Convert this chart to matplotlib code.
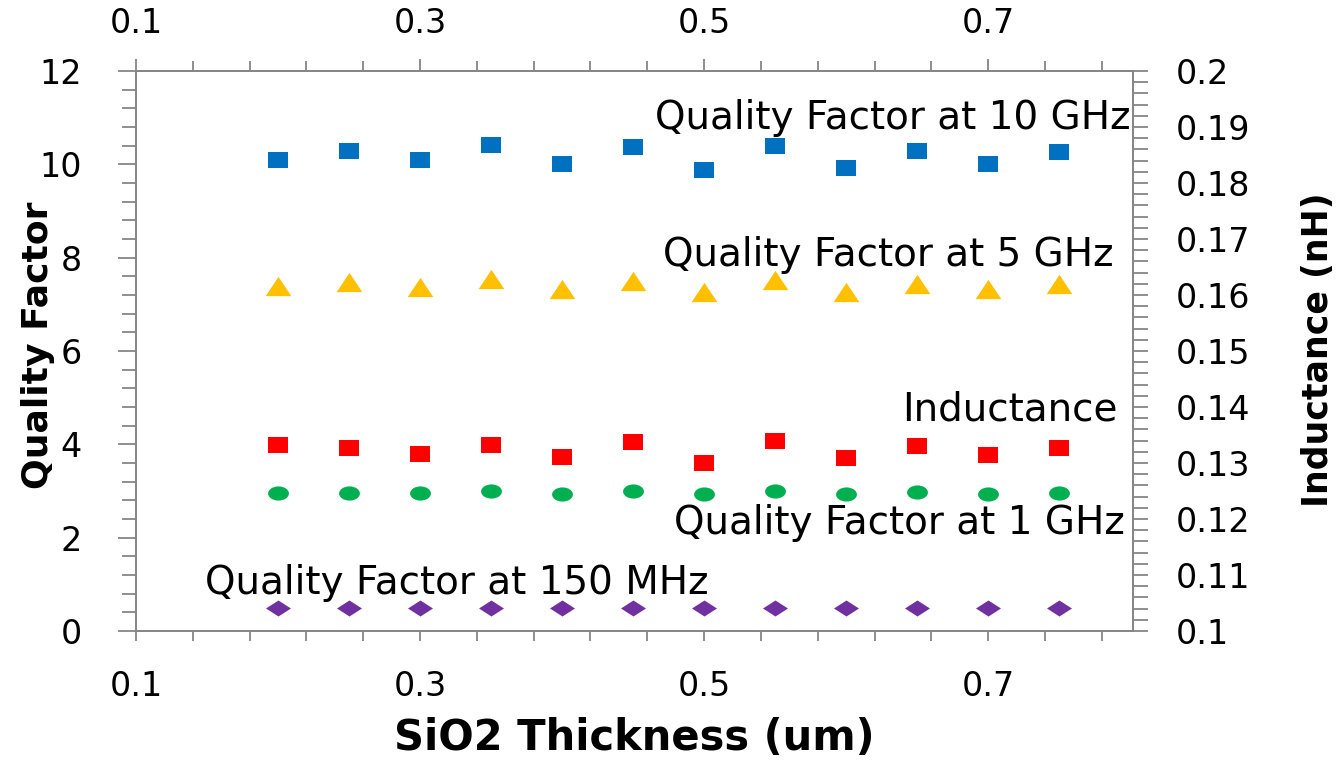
import numpy as np
import matplotlib
matplotlib.use("Agg")
import matplotlib.pyplot as plt
from matplotlib.path import Path
from matplotlib.transforms import Affine2D
from matplotlib.ticker import FixedLocator

# SiO2 thickness (um)
thickness = [0.20, 0.25, 0.30, 0.35, 0.40, 0.45, 0.50, 0.55, 0.60, 0.65, 0.70, 0.75]

# quality factor (left axis)
q_10ghz = [10.09, 10.29, 10.09, 10.41, 10.01, 10.37, 9.88, 10.39, 9.92, 10.29, 10.01, 10.26]
q_5ghz = [7.39, 7.48, 7.37, 7.54, 7.33, 7.50, 7.26, 7.52, 7.26, 7.44, 7.33, 7.44]
q_1ghz = [2.96, 2.96, 2.96, 3.00, 2.94, 3.00, 2.94, 3.00, 2.94, 2.98, 2.94, 2.96]
q_150mhz = [0.49, 0.49, 0.49, 0.49, 0.49, 0.49, 0.49, 0.49, 0.49, 0.49, 0.49, 0.49]

# inductance in nH (right axis)
inductance = [0.1332, 0.1327, 0.1316, 0.1332, 0.1311, 0.1337, 0.1300, 0.1339, 0.1309, 0.1330, 0.1314, 0.1327]

x_ticks = [0.1, 0.3, 0.5, 0.7]
x_minor = np.round(np.arange(0.1, 0.801, 0.04), 2)
q_ticks = [0, 2, 4, 6, 8, 10, 12]
l_ticks = [0.1, 0.11, 0.12, 0.13, 0.14, 0.15, 0.16, 0.17, 0.18, 0.19, 0.2]

GRAY = "#868686"
TXT = "DejaVu Sans"

# squashed markers (the original picture is stretched horizontally)
rect = Path([(-1, -0.75), (1, -0.75), (1, 0.75), (-1, 0.75), (-1, -0.75)], closed=True)
ellipse = Path.unit_circle().transformed(Affine2D().scale(1, 0.68))
diamond = Path([(-1, 0), (0, -0.64), (1, 0), (0, 0.64), (-1, 0)], closed=True)
tri = Path([(-1, -0.75), (1, -0.75), (0, 0.75), (-1, -0.75)], closed=True)

fig = plt.figure(figsize=(13.41, 7.6), dpi=100)
ax = fig.add_axes([136 / 1341, 1 - 631 / 760, (1133 - 136) / 1341, (631 - 71) / 760])
ax2 = ax.twinx()

ax.plot(thickness, q_10ghz, ls="none", marker=rect, ms=14.5, color="#0070C0", mew=0)
ax.plot(thickness, q_5ghz, ls="none", marker=tri, ms=18.5, color="#FFC000", mew=0)
ax.plot(thickness, q_1ghz, ls="none", marker=ellipse, ms=15, color="#00B050", mew=0)
ax.plot(thickness, q_150mhz, ls="none", marker=diamond, ms=18, color="#7030A0", mew=0)
ax2.plot(thickness, inductance, ls="none", marker=rect, ms=14.5, color="#FF0000", mew=0)

ax.set_xlim(0.1, 0.802)
ax.set_ylim(0, 12)
ax2.set_ylim(0.1, 0.2)

ax.set_xticks(x_ticks)
ax.set_xticklabels([f"{v:g}" for v in x_ticks])
ax.xaxis.set_minor_locator(FixedLocator(x_minor))
ax.set_yticks(q_ticks)
ax.yaxis.set_minor_locator(FixedLocator(np.arange(0, 12.01, 0.4)))
ax2.set_yticks(l_ticks)
ax2.set_yticklabels([f"{v:g}" for v in l_ticks])
ax2.yaxis.set_minor_locator(FixedLocator(np.arange(0.1, 0.2001, 0.002)))

top = ax.secondary_xaxis("top")
top.set_xticks(x_ticks)
top.set_xticklabels([f"{v:g}" for v in x_ticks])
top.xaxis.set_minor_locator(FixedLocator(x_minor))

for a in (ax, ax2, top):
    for s in a.spines.values():
        s.set_color(GRAY)
        s.set_linewidth(1.3)

ax.tick_params(axis="x", which="both", direction="out", color=GRAY, width=1.3,
               length=7, pad=21, labelsize=24)
ax.tick_params(axis="y", which="both", direction="out", color=GRAY, width=1.3,
               length=10, pad=26, labelsize=24)
ax.tick_params(axis="y", which="major", length=13)
ax2.tick_params(axis="y", which="both", direction="out", color=GRAY, width=1.3,
                length=11, pad=20, labelsize=24)
top.tick_params(axis="x", which="both", direction="out", color=GRAY, width=1.3,
                length=7, pad=13, labelsize=24)
top.tick_params(axis="x", which="major", length=9)

for lab in ax.get_xticklabels() + ax.get_yticklabels() + ax2.get_yticklabels() + top.get_xticklabels():
    lab.set_family(TXT)

# series names written inside the plot
ann = dict(fontsize=28, family=TXT, va="center")
ax.text(0.800, 10.99, "Quality Factor at 10 GHz", ha="right", **ann)
ax.text(0.788, 8.06, "Quality Factor at 5 GHz", ha="right", **ann)
ax.text(0.7915, 4.74, "Inductance", ha="right", **ann)
ax.text(0.7965, 2.31, "Quality Factor at 1 GHz", ha="right", **ann)
ax.text(0.1486, 1.03, "Quality Factor at 150 MHz", ha="left", **ann)

fig.text(38 / 1341, 1 - 345 / 760, "Quality Factor", rotation=90, ha="center", va="center",
         fontsize=26, fontweight="heavy", family=TXT)
fig.text(1318 / 1341, 1 - 350 / 760, "Inductance (nH)", rotation=90, ha="center", va="center",
         fontsize=25, fontweight="heavy", family=TXT)
fig.text(634 / 1341, 1 - 738 / 760, "SiO2 Thickness (um)", ha="center", va="center",
         fontsize=30, fontweight="bold", family=TXT)

fig.savefig("out.png", dpi=100)
